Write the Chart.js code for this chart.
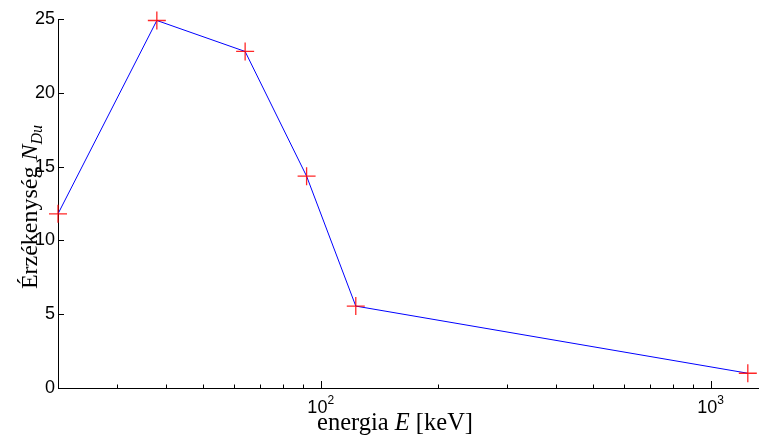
<!DOCTYPE html>
<html>
<head>
<meta charset="utf-8">
<script src="https://cdn.jsdelivr.net/npm/chart.js@4/dist/chart.umd.min.js"></script>
<style>
  html, body { margin: 0; padding: 0; background: #fff; }
  #wrap { width: 759px; height: 437px; position: relative; }
</style>
</head>
<body>
<div id="wrap"><canvas id="chart"></canvas></div>
<script>
// energia (keV) es erzekenyseg
const energiak = [21.2, 38, 64, 92, 123, 1245];
const erzekenyseg = [11.8, 24.9, 22.8, 14.35, 5.55, 1.0];

const xTickValues = [30, 40, 50, 60, 70, 80, 90, 100, 200, 300, 400, 500, 600, 700, 800, 900, 1000];
const xMajorTicks = [100, 1000];
const xMajorExponents = ['2', '3'];
const yTickValues = [0, 5, 10, 15, 20, 25];

const sans = '"Liberation Sans", Arial, sans-serif';
const serif = '"Liberation Serif", "Times New Roman", serif';

// inward tick marks, 10^n labels and axis titles
const axisDecor = {
    id: 'axisDecor',
    afterDraw(chart) {
        const ctx = chart.ctx;
        const xs = chart.scales.x;
        const ys = chart.scales.y;
        const area = chart.chartArea;
        ctx.save();
        ctx.strokeStyle = '#000';
        ctx.lineWidth = 1;
        ctx.beginPath();
        xTickValues.forEach(v => {
            const px = Math.round(xs.getPixelForValue(v)) + 0.5;
            const len = xMajorTicks.includes(v) ? 7 : 3.5;
            ctx.moveTo(px, area.bottom);
            ctx.lineTo(px, area.bottom - len);
        });
        yTickValues.forEach(v => {
            const py = Math.round(ys.getPixelForValue(v)) + 0.5;
            ctx.moveTo(area.left, py);
            ctx.lineTo(area.left + 6, py);
        });
        ctx.stroke();

        ctx.fillStyle = '#000';
        ctx.textBaseline = 'alphabetic';
        ctx.textAlign = 'left';

        // 10^2, 10^3
        xMajorTicks.forEach((v, i) => {
            const px = xs.getPixelForValue(v);
            ctx.font = '18px ' + sans;
            const wb = ctx.measureText('10').width;
            ctx.font = '12px ' + sans;
            const we = ctx.measureText(xMajorExponents[i]).width;
            const x0 = px - (wb + we) / 2;
            ctx.font = '18px ' + sans;
            ctx.fillText('10', x0, area.bottom + 25);
            ctx.font = '12px ' + sans;
            ctx.fillText(xMajorExponents[i], x0 + wb, area.bottom + 16);
        });

        // x title
        const parts = [
            { t: 'energia ', f: '24.5px ' + serif },
            { t: 'E', f: 'italic 24.5px ' + serif },
            { t: ' [keV]', f: '24.5px ' + serif }
        ];
        let total = 0;
        parts.forEach(p => { ctx.font = p.f; p.w = ctx.measureText(p.t).width; total += p.w; });
        let x = 395 - total / 2;
        parts.forEach(p => { ctx.font = p.f; ctx.fillText(p.t, x, 430); x += p.w; });

        // y title (rotated)
        const yparts = [
            { t: 'Érzékenység ', f: '24px ' + serif, dy: 0 },
            { t: 'N', f: 'italic 24px ' + serif, dy: 0 },
            { t: 'Du', f: 'italic 16px ' + serif, dy: 5 }
        ];
        total = 0;
        yparts.forEach(p => { ctx.font = p.f; p.w = ctx.measureText(p.t).width; total += p.w; });
        ctx.translate(37, 207);
        ctx.rotate(-Math.PI / 2);
        x = -total / 2;
        yparts.forEach(p => { ctx.font = p.f; ctx.fillText(p.t, x, p.dy); x += p.w; });
        ctx.restore();
    }
};

new Chart(document.getElementById('chart'), {
    type: 'line',
    data: {
        datasets: [{
            data: energiak.map((e, i) => ({ x: e, y: erzekenyseg[i] })),
            borderColor: '#0000ff',
            borderWidth: 1,
            pointStyle: 'cross',
            pointRadius: 9,
            pointBorderColor: 'rgba(255, 0, 0, 0.85)',
            pointBorderWidth: 1.3,
            tension: 0,
            clip: false
        }]
    },
    options: {
        responsive: true,
        maintainAspectRatio: false,
        animation: false,
        layout: { autoPadding: false, padding: { top: 19, right: 0, left: 0, bottom: 0 } },
        plugins: { legend: { display: false }, tooltip: { enabled: false } },
        scales: {
            x: {
                type: 'logarithmic',
                min: 21.2,
                max: 1330,
                afterBuildTicks: (scale) => { scale.ticks = xTickValues.map(v => ({ value: v })); },
                afterFit: (scale) => { scale.height = 49; },
                grid: { display: false, drawTicks: false },
                border: { display: true, color: '#000', width: 1 },
                ticks: { display: false }
            },
            y: {
                min: 0,
                max: 25,
                afterBuildTicks: (scale) => { scale.ticks = yTickValues.map(v => ({ value: v })); },
                afterFit: (scale) => {
                    scale.width = 58;
                    scale.paddingTop = 0;
                    scale.paddingBottom = 0;
                },
                grid: { display: false, drawTicks: false },
                border: { display: true, color: '#000', width: 1 },
                ticks: {
                    padding: 3,
                    color: '#000',
                    font: { family: sans, size: 18 }
                }
            }
        }
    },
    plugins: [axisDecor]
});
</script>
</body>
</html>
